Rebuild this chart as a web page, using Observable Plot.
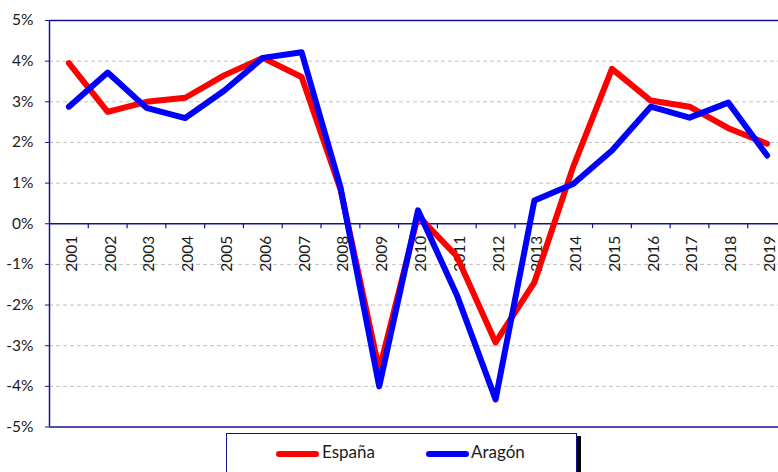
<!DOCTYPE html>
<html>
<head>
<meta charset="utf-8">
<script src="https://cdn.jsdelivr.net/npm/d3@7"></script>
<script src="https://cdn.jsdelivr.net/npm/@observablehq/plot@0.6"></script>
<style>
  html, body { margin: 0; padding: 0; background: #fff; overflow: hidden; width: 778px; height: 472px; }
  #wrap { position: relative; width: 778px; height: 472px; overflow: hidden; }
  #chart svg { max-width: none !important; }
  #legend { position: absolute; left: 226px; top: 433px; width: 349px; height: 60px;
            border: 1.5px solid #14148c; box-shadow: 4px 3px 0 #000; background: #fff;
            font-family: Lato, sans-serif; font-size: 17px; color: #1a1a1a; }
  .sw { position: absolute; height: 6px; border-radius: 3px; top: 17px; }
  .lb { position: absolute; top: 8px; line-height: 20px; }
</style>
</head>
<body>
<div id="wrap">
  <div id="chart"></div>
  <div id="legend"></div>
</div>
<script>
const years = [2001, 2002, 2003, 2004, 2005, 2006, 2007, 2008, 2009, 2010,
               2011, 2012, 2013, 2014, 2015, 2016, 2017, 2018, 2019];
const espana = [3.95, 2.75, 3.0, 3.1, 3.65, 4.08, 3.61, 0.85, -3.6, 0.2,
                -0.8, -2.92, -1.44, 1.4, 3.81, 3.03, 2.88, 2.35, 1.97];
const aragon = [2.88, 3.72, 2.85, 2.6, 3.27, 4.08, 4.22, 0.9, -4.0, 0.33,
                -1.75, -4.32, 0.57, 0.98, 1.8, 2.88, 2.61, 2.98, 1.68];
const seriesNames = ["España", "Aragón"];
const seriesColors = ["#ff0000", "#0000ff"];
const yTicks = [-5, -4, -3, -2, -1, 0, 1, 2, 3, 4, 5];

const navy = "#14148c";
const data = [
  ...years.map((y, i) => ({year: y, value: espana[i], serie: seriesNames[0]})),
  ...years.map((y, i) => ({year: y, value: aragon[i], serie: seriesNames[1]}))
];
const boundaries = years.map(y => y + 0.5);
const grid = yTicks.filter(t => t !== 0 && Math.abs(t) !== 5);

const chart = Plot.plot({
  width: 786,
  height: 432,
  marginLeft: 49,
  marginRight: 0,
  marginTop: 20,
  marginBottom: 5.5,
  x: {type: "linear", domain: [years[0] - 0.5, years[years.length - 1] + 0.5], axis: null},
  y: {domain: [-5, 5], axis: null},
  color: {domain: seriesNames, range: seriesColors},
  style: {fontFamily: "Lato, sans-serif", background: "transparent", overflow: "visible", maxWidth: "none"},
  marks: [
    Plot.ruleY(grid, {stroke: "#c0c0c0", strokeDasharray: "4,3", strokeWidth: 1}),
    Plot.ruleY([5, -5], {stroke: navy, strokeWidth: 1.3}),
    Plot.ruleY([0], {stroke: navy, strokeWidth: 1.5}),
    Plot.axisY(yTicks, {tickSize: 4, tickPadding: 12, tickFormat: d => d + "%", label: null,
                        stroke: navy, fill: "#1a1a1a", fontSize: 15.5}),
    Plot.ruleX([years[0] - 0.5], {y1: -5, y2: 5, stroke: navy, strokeWidth: 1.5}),
    Plot.ruleX(boundaries, {y1: 0, y2: -0.12, stroke: navy, strokeWidth: 1.2}),
    Plot.text(years, {x: d => d, y: 0, text: d => String(d), rotate: -90, textAnchor: "end",
                      lineAnchor: "middle", dy: 12, dx: 3, fontSize: 15.5, fill: "#1a1a1a"}),
    Plot.line(data, {x: "year", y: "value", z: "serie", stroke: "serie", strokeWidth: 6,
                     strokeLinejoin: "round", strokeLinecap: "round"})
  ]
});
document.getElementById("chart").appendChild(chart);

const legend = document.getElementById("legend");
const items = [
  {sw: 49, lb: 95},
  {sw: 199, lb: 244}
];
seriesNames.forEach((name, i) => {
  const s = document.createElement("div");
  s.className = "sw";
  s.style.left = items[i].sw + "px";
  s.style.width = "43px";
  s.style.background = seriesColors[i];
  legend.appendChild(s);
  const l = document.createElement("div");
  l.className = "lb";
  l.style.left = items[i].lb + "px";
  l.textContent = name;
  legend.appendChild(l);
});
</script>
</body>
</html>
